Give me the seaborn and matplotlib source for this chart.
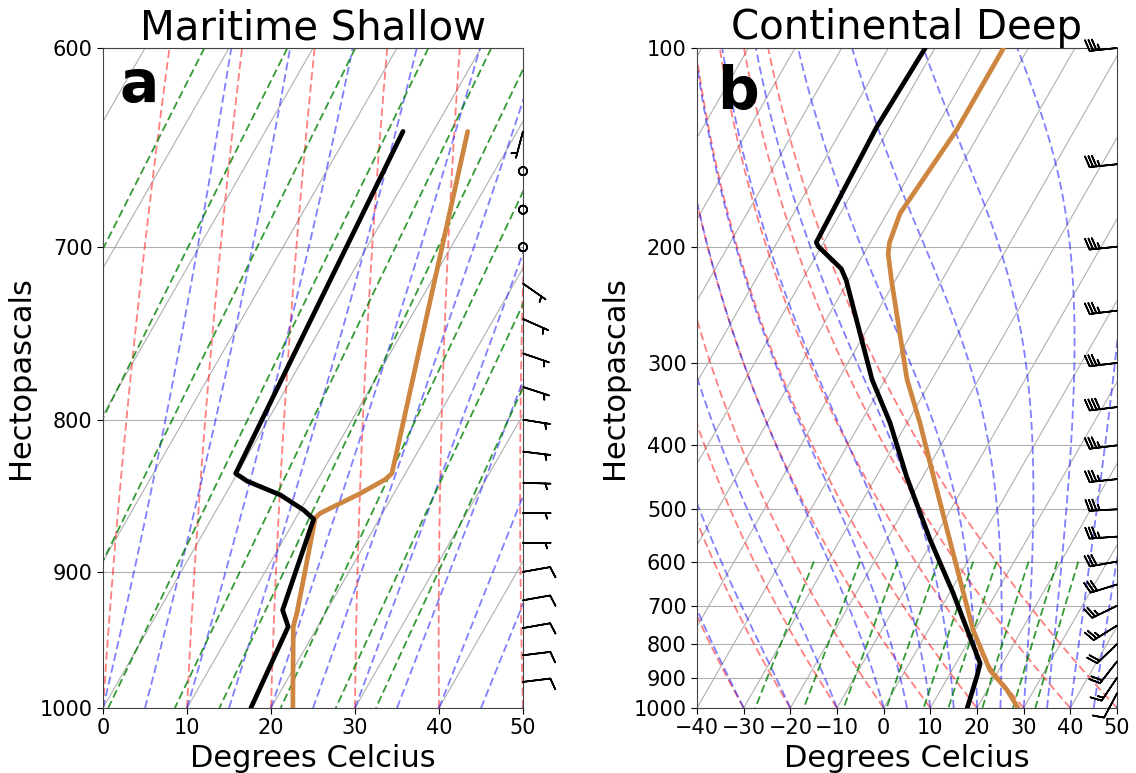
import numpy as np
import matplotlib
matplotlib.use("Agg")
import matplotlib.pyplot as plt
from matplotlib.ticker import FixedLocator, ScalarFormatter, NullLocator
import seaborn as sns

# ---- soundings (pressure hPa, temperature degC) ----
# a: maritime shallow
a_orange_p = [1000, 939, 929, 863, 860, 847, 838, 834, 640]
a_orange_t = [22.6, 17.1, 16.6, 12.3, 12.6, 16.0, 18.0, 18.4, 4.1]
a_black_p = [1000, 939, 927, 864, 858, 848, 839, 834, 640]
a_black_t = [17.6, 16.5, 14.7, 12.2, 10.4, 6.6, 1.7, -0.2, -3.6]

# b: continental deep
b_orange_p = [1000, 939, 876, 762, 583, 467, 370, 318, 225, 205, 197, 178, 133, 100]
b_orange_t = [28.8, 24.2, 18.1, 9.6, -4.1, -15.4, -27.2, -35.3, -50.8, -54.8, -55.9, -57.2, -55.3, -55.3]
b_black_p = [1000, 896, 856, 670, 556, 446, 370, 318, 225, 216, 200, 197, 132, 100]
b_black_t = [17.9, 16.1, 15.2, 0.8, -10.7, -23.5, -33.6, -42.8, -60.5, -63.0, -70.6, -71.6, -72.8, -72.1]

# winds (knots, direction wind comes from)
a_wind_p = [640, 660, 680, 700, 720, 740, 760, 780, 800, 820, 840, 860, 880, 900, 920, 940, 960, 980]
a_wind_spd = [5, 0, 0, 0, 5, 5, 5, 5, 5, 5, 5, 5, 5, 10, 10, 10, 10, 10]
a_wind_dir = [195, 0, 0, 0, 125, 114, 109, 108, 99, 97, 92, 90, 90, 80, 80, 80, 83, 83]

b_wind_p = [100, 150, 200, 250, 300, 350, 400, 450, 500, 550, 600, 650, 700, 750, 800, 850, 900, 950]
b_wind_spd = [35, 35, 35, 35, 35, 40, 35, 35, 35, 35, 30, 30, 25, 25, 20, 20, 15, 10]
b_wind_dir = [264, 264, 264, 263, 263, 263, 263, 264, 267, 266, 260, 253, 244, 238, 226, 218, 214, 208]

a_yticks = [600, 700, 800, 900, 1000]
b_yticks = [100, 200, 300, 400, 500, 600, 700, 800, 900, 1000]

SKEW = 0.9  # shear of the isotherms, in axes units
MIX = [0.0004, 0.001, 0.002, 0.004, 0.007, 0.01, 0.016, 0.024, 0.032]


def skew(t, p, xlim, ptop):
    frac = np.log(1000.0 / np.asarray(p, float)) / np.log(1000.0 / ptop)
    return np.asarray(t, float) + SKEW * (xlim[1] - xlim[0]) * frac


def moist_adiabats(t0, p):
    # RK4 integration of the saturated lapse rate starting at 1000 hPa
    Rd, Lv, Cp, eps = 287.04749, 2.50084e6, 1004.6662, 0.621957

    def dtdp(pp, T):
        es = 6.112 * np.exp(17.67 * (T - 273.15) / (T - 29.65))
        rs = eps * es / (pp - es)
        return (Rd * T + Lv * rs) / (Cp + Lv * Lv * rs * eps / (Rd * T * T)) / pp

    T = np.asarray(t0, float) + 273.15
    out = [T.copy()]
    for i in range(len(p) - 1):
        h = p[i + 1] - p[i]
        k1 = dtdp(p[i], T)
        k2 = dtdp(p[i] + h / 2, T + h / 2 * k1)
        k3 = dtdp(p[i] + h / 2, T + h / 2 * k2)
        k4 = dtdp(p[i] + h, T + h * k3)
        T = T + h / 6 * (k1 + 2 * k2 + 2 * k3 + k4)
        out.append(T.copy())
    return np.array(out) - 273.15  # shape (len(p), len(t0))


def background(ax, xlim, ptop):
    p = np.linspace(1000, ptop, 120)
    # isotherms
    for t in range(-200, 61, 10):
        ax.plot(skew([t, t], [1000, ptop], xlim, ptop), [1000, ptop],
                color="#b0b0b0", lw=0.8, zorder=1)
    # dry adiabats
    for t0 in np.arange(xlim[0], xlim[1] + 1, 10):
        t = (t0 + 273.15) * (p / 1000.0) ** 0.2857 - 273.15
        ax.plot(skew(t, p, xlim, ptop), p, color="r", alpha=0.5, lw=1.3,
                dashes=(4.5, 2.2), zorder=2)
    # moist adiabats
    t0s = np.concatenate((np.arange(xlim[0], 0, 10), np.arange(0, xlim[1] + 1, 5)))
    tm = moist_adiabats(t0s, p)
    for j in range(len(t0s)):
        ax.plot(skew(tm[:, j], p, xlim, ptop), p, color="b", alpha=0.5, lw=1.3,
                dashes=(4.5, 2.2), zorder=2)
    # mixing ratio lines
    pm = np.linspace(600, 1000, 50)
    for w in MIX:
        e = pm * w / (0.621957 + w)
        lg = np.log(e / 6.112)
        td = 243.5 * lg / (17.67 - lg)
        ax.plot(skew(td, pm, xlim, ptop), pm, color="g", alpha=0.8, lw=1.3,
                dashes=(4.5, 2.2), zorder=2)


def draw_panel(ax, xlim, ptop, yticks, xticks, orange, black, wind, title, letter, lx, ly):
    ax.set_yscale("log")
    background(ax, xlim, ptop)
    sns.lineplot(x=skew(orange[1], orange[0], xlim, ptop), y=orange[0], sort=False,
                 estimator=None, color="peru", lw=3.4, ax=ax, zorder=5)
    sns.lineplot(x=skew(black[1], black[0], xlim, ptop), y=black[0], sort=False,
                 estimator=None, color="black", lw=3.4, ax=ax, zorder=6)
    ax.set_xlim(*xlim)
    ax.set_ylim(1000, ptop)
    ax.yaxis.set_major_locator(FixedLocator(yticks))
    ax.yaxis.set_major_formatter(ScalarFormatter())
    ax.yaxis.set_minor_locator(NullLocator())
    ax.set_xticks(xticks)
    ax.yaxis.grid(True, color="#b0b0b0", lw=0.8)
    ax.xaxis.grid(False)
    ax.tick_params(labelsize=15, length=4, colors="black")
    ax.set_title(title, fontsize=29, color="black")
    ax.set_xlabel("Degrees Celcius", fontsize=22, color="black")
    ax.set_ylabel("Hectopascals", fontsize=22, labelpad=3, color="black")
    ax.text(lx, ly, letter, transform=ax.transAxes, fontsize=42, color="black",
            fontweight="bold", va="baseline", zorder=10)
    # wind barbs along the right edge
    wp, spd, wdir = [np.asarray(v, float) for v in wind]
    u = -spd * np.sin(np.radians(wdir))
    v = -spd * np.cos(np.radians(wdir))
    ax.barbs(np.ones_like(wp), wp, u, v, transform=ax.get_yaxis_transform(),
             clip_on=False, length=6.3, lw=1.2, zorder=8)
    for s in ax.spines.values():
        s.set_visible(True)
        s.set_color("#444444")


sns.set_style("ticks")
plt.rcParams["font.family"] = ["DejaVu Sans"]

fig = plt.figure(figsize=(11.36, 7.73), dpi=100)
ax1 = fig.add_axes([0.0907, 0.0841, 0.3697, 0.8538])
ax2 = fig.add_axes([0.6136, 0.0841, 0.3697, 0.8538])

draw_panel(ax1, (0, 50), 600, a_yticks, range(0, 51, 10),
           (a_orange_p, a_orange_t), (a_black_p, a_black_t),
           (a_wind_p, a_wind_spd, a_wind_dir), "Maritime Shallow", "a", 0.04, 0.918)
draw_panel(ax2, (-40, 50), 100, b_yticks, range(-40, 51, 10),
           (b_orange_p, b_orange_t), (b_black_p, b_black_t),
           (b_wind_p, b_wind_spd, b_wind_dir), "Continental Deep", "b", 0.048, 0.908)

fig.savefig("out.png", dpi=100)
